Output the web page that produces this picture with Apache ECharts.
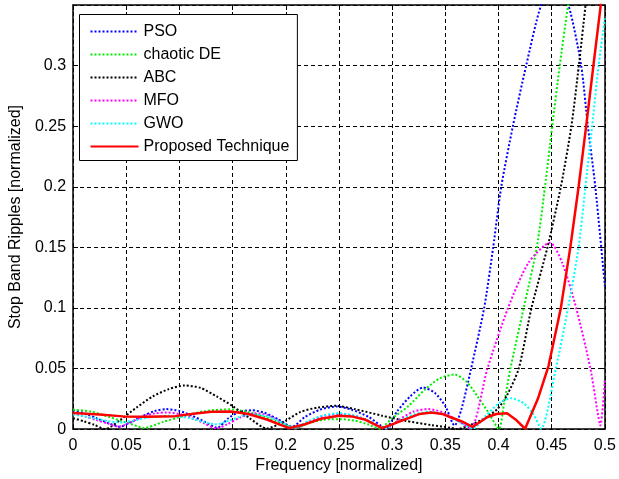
<!DOCTYPE html>
<html>
<head>
<meta charset="utf-8">
<script src="https://cdn.jsdelivr.net/npm/echarts@6/dist/echarts.min.js"></script>
<style>
  html, body { margin: 0; padding: 0; background: #fff; }
  #chart { width: 619px; height: 479px; }
</style>
</head>
<body>
<div id="chart"></div>
<script>
// Stop-band ripple magnitude vs normalized frequency, one [freq, ripple] list per optimiser
const seriesNames = ['PSO', 'chaotic DE', 'ABC', 'MFO', 'GWO', 'Proposed Technique'];

const pso = [
  [0, 0.0157], [0.011, 0.013], [0.022, 0.009], [0.033, 0.005], [0.044, 0.002],
  [0.055, 0.006], [0.066, 0.011], [0.077, 0.015], [0.0875, 0.0165], [0.1, 0.015],
  [0.112, 0.011], [0.124, 0.006], [0.1354, 0.001], [0.146, 0.009], [0.157, 0.0145],
  [0.168, 0.0155], [0.18, 0.0135], [0.193, 0.008], [0.206, 0.002], [0.218, 0.01],
  [0.232, 0.016], [0.248, 0.0187], [0.262, 0.016], [0.278, 0.01], [0.294, 0.001],
  [0.305, 0.015], [0.317, 0.027], [0.329, 0.0343], [0.34, 0.03], [0.35, 0.019],
  [0.3587, 0.003], [0.365, 0.016], [0.374, 0.049], [0.3865, 0.1], [0.395, 0.15],
  [0.4026, 0.2], [0.4135, 0.25], [0.426, 0.3], [0.4397, 0.349], [0.453, 0.372],
  [0.466, 0.349], [0.4777, 0.3], [0.484, 0.25], [0.491, 0.2], [0.5, 0.118]
];

const chaoticDE = [
  [0, 0.016], [0.017, 0.0145], [0.034, 0.01], [0.05, 0.0055], [0.067, 0.001],
  [0.085, 0.006], [0.105, 0.011], [0.125, 0.015], [0.148, 0.0163], [0.165, 0.014],
  [0.18, 0.01], [0.195, 0.005], [0.21, 0.001], [0.222, 0.005], [0.236, 0.0078],
  [0.25, 0.0082], [0.265, 0.007], [0.277, 0.004], [0.288, 0.0005], [0.3, 0.009],
  [0.3154, 0.019], [0.33, 0.032], [0.345, 0.042], [0.3587, 0.045], [0.37, 0.039],
  [0.3803, 0.027], [0.391, 0.013], [0.4004, 0.0], [0.405, 0.02], [0.4112, 0.05],
  [0.4237, 0.1], [0.436, 0.15], [0.4437, 0.2], [0.4505, 0.25], [0.4576, 0.3],
  [0.4653, 0.349], [0.48, 0.43], [0.5, 0.5]
];

const abc = [
  [0, 0.009], [0.01, 0.0065], [0.02, 0.0035], [0.03, 0.0], [0.045, 0.008],
  [0.06, 0.018], [0.075, 0.027], [0.09, 0.033], [0.105, 0.036], [0.12, 0.034],
  [0.135, 0.027], [0.15, 0.019], [0.166, 0.009], [0.182, 0.0005], [0.2, 0.007],
  [0.2134, 0.014], [0.23, 0.0178], [0.247, 0.0192], [0.265, 0.0165], [0.2906, 0.011],
  [0.312, 0.0069], [0.337, 0.0033], [0.355, 0.0011], [0.361, 0.0], [0.375, 0.004],
  [0.387, 0.009], [0.399, 0.0165], [0.408, 0.028], [0.419, 0.05], [0.431, 0.1],
  [0.446, 0.15], [0.4586, 0.2], [0.4685, 0.25], [0.4755, 0.3], [0.4817, 0.349],
  [0.5, 0.5]
];

const mfo = [
  [0, 0.0125], [0.011, 0.0105], [0.022, 0.0075], [0.033, 0.0045], [0.043, 0.002],
  [0.055, 0.006], [0.066, 0.0105], [0.077, 0.013], [0.088, 0.0137], [0.1, 0.0125],
  [0.112, 0.009], [0.124, 0.0045], [0.1345, 0.0005], [0.145, 0.004], [0.157, 0.0095],
  [0.17, 0.013], [0.183, 0.0115], [0.195, 0.006], [0.208, 0.0005], [0.222, 0.006],
  [0.236, 0.011], [0.25, 0.0125], [0.265, 0.011], [0.28, 0.006], [0.294, 0.0005],
  [0.307, 0.008], [0.32, 0.0145], [0.334, 0.0165], [0.347, 0.014], [0.36, 0.008],
  [0.3735, 0.0005], [0.3896, 0.05], [0.409, 0.1], [0.428, 0.137], [0.4484, 0.1538],
  [0.46, 0.137], [0.473, 0.1], [0.4864, 0.05], [0.4932, 0.0137], [0.4957, 0.003],
  [0.5, 0.04]
];

const gwo = [
  [0, 0.012], [0.011, 0.0105], [0.022, 0.0085], [0.033, 0.0065], [0.045, 0.0055],
  [0.057, 0.007], [0.07, 0.0095], [0.09, 0.011], [0.11, 0.009], [0.124, 0.0055],
  [0.135, 0.004], [0.147, 0.007], [0.16, 0.011], [0.17, 0.012], [0.183, 0.0105],
  [0.195, 0.006], [0.207, 0.001], [0.222, 0.007], [0.236, 0.0115], [0.25, 0.013],
  [0.265, 0.011], [0.28, 0.006], [0.292, 0.0005], [0.307, 0.007], [0.32, 0.012],
  [0.335, 0.0143], [0.35, 0.012], [0.363, 0.006], [0.376, 0.0005], [0.388, 0.011],
  [0.4, 0.021], [0.412, 0.0255], [0.424, 0.021], [0.433, 0.012], [0.44, 0.0005],
  [0.4539, 0.05], [0.4654, 0.1], [0.4753, 0.15], [0.4817, 0.2], [0.488, 0.25],
  [0.4941, 0.3], [0.5, 0.339]
];

const proposed = [
  [0, 0.0132], [0.025, 0.012], [0.047, 0.0105], [0.07, 0.0102], [0.096, 0.0107],
  [0.115, 0.0128], [0.13, 0.0143], [0.148, 0.0146], [0.164, 0.0127], [0.183, 0.0077],
  [0.195, 0.0035], [0.2035, 0.0008], [0.218, 0.004], [0.233, 0.0085], [0.25, 0.011],
  [0.262, 0.0105], [0.275, 0.0077], [0.2906, 0.0008], [0.303, 0.005], [0.3154, 0.009],
  [0.326, 0.0125], [0.337, 0.0137], [0.347, 0.0125], [0.355, 0.0098], [0.365, 0.0065],
  [0.3757, 0.0018], [0.3896, 0.01], [0.398, 0.0125], [0.408, 0.013], [0.416, 0.008],
  [0.425, 0.0003], [0.437, 0.025], [0.447, 0.052], [0.4586, 0.1], [0.4675, 0.15],
  [0.4753, 0.2], [0.4824, 0.25], [0.4892, 0.3], [0.5, 0.378]
];

const xTicks = { min: 0, max: 0.5, step: 0.05 };
const yTicks = { min: 0, max: 0.35, step: 0.05 };

const FONT = 'Arial, "Liberation Sans", Helvetica, sans-serif';
const FS = 16;

const dotted = (name, data, color) => ({
  name, type: 'line', data, symbol: 'none', smooth: 0.25, clip: true,
  lineStyle: { color, width: 2, type: [2, 2] }, itemStyle: { color }
});

const gridDash = { color: '#000', width: 1, type: [4, 3] };

const chart = echarts.init(document.getElementById('chart'), null, { renderer: 'canvas' });
chart.setOption({
  animation: false,
  backgroundColor: '#fff',
  textStyle: { fontFamily: FONT },
  grid: { left: 70, right: 10, top: 5, bottom: 49, containLabel: false },
  legend: {
    show: true,
    orient: 'vertical',
    left: 79.5, top: 14.5,
    padding: [8, 8, 5, 10],
    itemWidth: 48, itemHeight: 14, itemGap: 5,
    itemStyle: { opacity: 0 },
    backgroundColor: '#fff', borderColor: '#000', borderWidth: 1,
    textStyle: { fontFamily: FONT, fontSize: FS, color: '#000', lineHeight: 18 },
    data: seriesNames
  },
  xAxis: [{
    type: 'value', min: xTicks.min, max: xTicks.max, interval: xTicks.step,
    name: 'Frequency [normalized]', nameLocation: 'middle', nameGap: 23,
    nameTextStyle: { fontFamily: FONT, fontSize: FS, color: '#000' },
    axisLine: { show: true, onZero: false, lineStyle: { color: '#000', width: 1.5 } },
    axisTick: { show: true, inside: true, length: 5, lineStyle: { color: '#000' } },
    axisLabel: { fontFamily: FONT, fontSize: FS, color: '#000', margin: 8 },
    splitLine: { show: true, lineStyle: gridDash }
  }, {
    type: 'value', position: 'top', min: xTicks.min, max: xTicks.max, interval: xTicks.step,
    axisLine: { show: true, onZero: false, lineStyle: { color: '#000', width: 1.5 } },
    axisTick: { show: true, inside: true, length: 5, lineStyle: { color: '#000' } },
    axisLabel: { show: false }, splitLine: { show: false }
  }],
  yAxis: [{
    type: 'value', min: yTicks.min, max: yTicks.max, interval: yTicks.step,
    name: 'Stop Band Ripples [normalized]', nameLocation: 'middle', nameGap: 48,
    nameTextStyle: { fontFamily: FONT, fontSize: FS, color: '#000' },
    axisLine: { show: true, onZero: false, lineStyle: { color: '#000', width: 1.5 } },
    axisTick: { show: true, inside: true, length: 5, lineStyle: { color: '#000' } },
    axisLabel: { fontFamily: FONT, fontSize: FS, color: '#000', margin: 7, showMaxLabel: false },
    splitLine: { show: true, lineStyle: gridDash }
  }, {
    type: 'value', position: 'right', min: yTicks.min, max: yTicks.max, interval: yTicks.step,
    axisLine: { show: true, onZero: false, lineStyle: { color: '#000', width: 1.5 } },
    axisTick: { show: true, inside: true, length: 5, lineStyle: { color: '#000' } },
    axisLabel: { show: false }, splitLine: { show: false }
  }],
  series: [
    dotted(seriesNames[0], pso, '#0000ff'),
    dotted(seriesNames[1], chaoticDE, '#00ee00'),
    dotted(seriesNames[2], abc, '#000000'),
    dotted(seriesNames[3], mfo, '#ff00ff'),
    dotted(seriesNames[4], gwo, '#00ffff'),
    {
      name: seriesNames[5], type: 'line', data: proposed, symbol: 'none', clip: true,
      lineStyle: { color: '#ff0000', width: 2.5 }, itemStyle: { color: '#ff0000' }
    }
  ]
});
</script>
</body>
</html>
